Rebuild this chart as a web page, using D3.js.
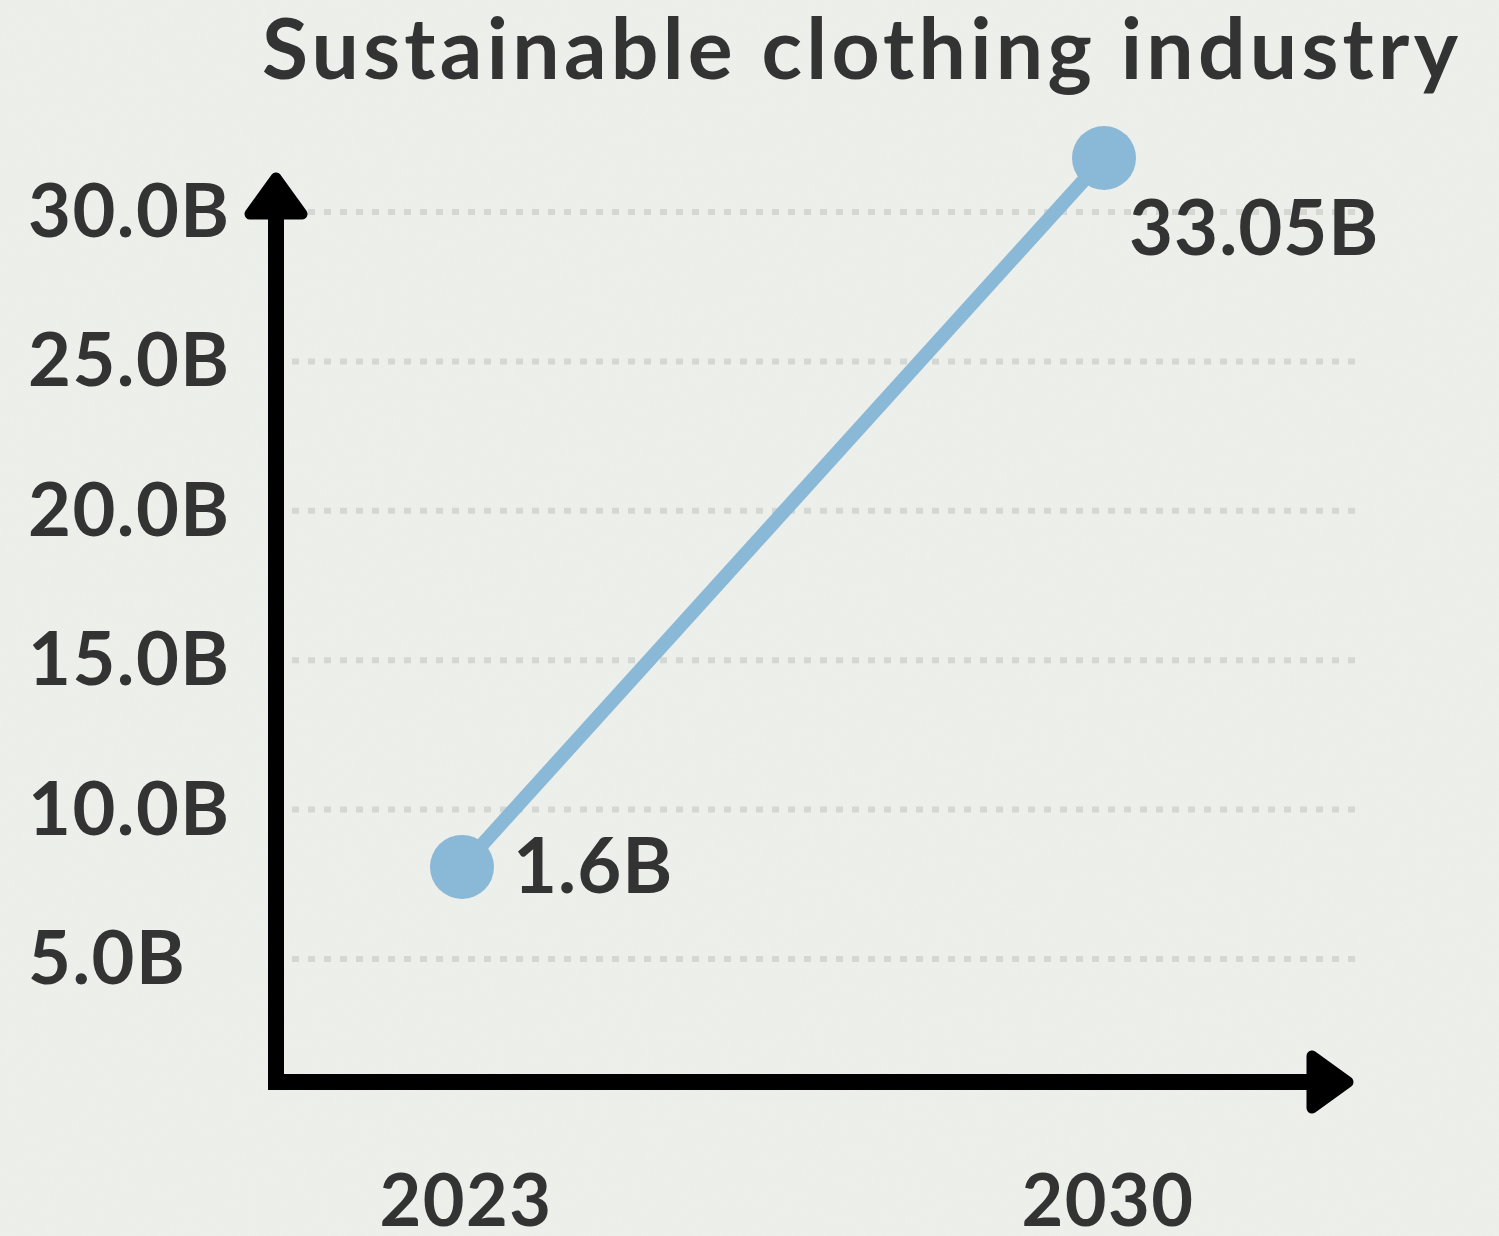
<!DOCTYPE html>
<html>
<head>
<meta charset="utf-8">
<script src="https://cdn.jsdelivr.net/npm/d3@7"></script>
<style>
  html, body { margin: 0; padding: 0; background: #edefeb; }
  svg { display: block; }
  text { font-family: Lato, "Open Sans", sans-serif; font-weight: 700; fill: #333333; }
</style>
</head>
<body>
<svg id="chart" width="1499" height="1236"></svg>
<script>
// ---- data ----
const title = "Sustainable clothing industry";
const years = ["2023", "2030"];
const values = [1.6, 33.05];
const valueLabels = ["1.6B", "33.05B"];
const yTicks = [5, 10, 15, 20, 25, 30];
const yTickLabels = ["5.0B", "10.0B", "15.0B", "20.0B", "25.0B", "30.0B"];

// ---- layout ----
const W = 1499, H = 1236;
const svg = d3.select("#chart");

// paper texture
const defs = svg.append("defs");
const f = defs.append("filter").attr("id", "paper").attr("x", 0).attr("y", 0).attr("width", "100%").attr("height", "100%");
f.append("feTurbulence").attr("type", "fractalNoise").attr("baseFrequency", 0.35).attr("numOctaves", 3).attr("seed", 4).attr("result", "n");
f.append("feColorMatrix").attr("type", "matrix")
  .attr("values", "0 0 0 0 0.82  0 0 0 0 0.83  0 0 0 0 0.80  0 0 0 -1.1 0.75");
svg.append("rect").attr("width", W).attr("height", H).attr("fill", "#edefeb");
svg.append("rect").attr("width", W).attr("height", H).attr("filter", "url(#paper)").attr("opacity", 0.35);

const axisX = 276, axisY = 1082;
const gridX0 = 292, gridX1 = 1355;

const x = d3.scalePoint().domain(years).range([462, 1104]);
const y = d3.scaleLinear().domain([5, 30]).range([959, 212]);
const yVal = d3.scaleLinear().domain([0, 35]).range([903, 114]);

// gridlines
svg.append("g").selectAll("line").data(yTicks).join("line")
  .attr("x1", gridX0).attr("x2", gridX1)
  .attr("y1", d => y(d)).attr("y2", d => y(d))
  .attr("stroke", "#d5d7d2").attr("stroke-width", 6)
  .attr("stroke-dasharray", "7 9");

// y tick labels
svg.append("g").selectAll("text").data(yTicks).join("text")
  .attr("x", 28).attr("y", d => y(d) + 25)
  .attr("font-size", 74)
  .attr("letter-spacing", 1.5)
  .text((d, i) => yTickLabels[i]);

// axes
svg.append("line").attr("x1", axisX).attr("x2", axisX).attr("y1", axisY + 8).attr("y2", 214)
  .attr("stroke", "#000").attr("stroke-width", 16);
svg.append("line").attr("x1", axisX - 8).attr("x2", 1310).attr("y1", axisY).attr("y2", axisY)
  .attr("stroke", "#000").attr("stroke-width", 16);
// arrow heads (rounded)
svg.append("path")
  .attr("d", `M${axisX},178 L${axisX + 26},214 L${axisX - 26},214 Z`)
  .attr("fill", "#000").attr("stroke", "#000").attr("stroke-width", 11).attr("stroke-linejoin", "round");
svg.append("path")
  .attr("d", `M1348,${axisY} L1312,${axisY - 26} L1312,${axisY + 26} Z`)
  .attr("fill", "#000").attr("stroke", "#000").attr("stroke-width", 11).attr("stroke-linejoin", "round");

// x labels
svg.append("g").selectAll("text").data(years).join("text")
  .attr("x", d => x(d) + 4).attr("y", 1226)
  .attr("text-anchor", "middle").attr("font-size", 72)
  .attr("letter-spacing", 1.5)
  .text(d => d);

// line + points
const pts = years.map((yr, i) => ({ yr, v: values[i], label: valueLabels[i] }));
svg.append("path").datum(pts)
  .attr("d", d3.line().x(d => x(d.yr)).y(d => yVal(d.v)))
  .attr("fill", "none").attr("stroke", "#8ab8d7").attr("stroke-width", 14);
svg.append("g").selectAll("circle").data(pts).join("circle")
  .attr("cx", d => x(d.yr)).attr("cy", d => yVal(d.v)).attr("r", 32)
  .attr("fill", "#8ab8d7");

// value labels
svg.append("g").selectAll("text").data(pts).join("text")
  .attr("x", (d, i) => x(d.yr) + (i === pts.length - 1 ? 25 : 51))
  .attr("y", (d, i) => yVal(d.v) + (i === pts.length - 1 ? 97 : 26))
  .attr("font-size", 76)
  .attr("letter-spacing", 1)
  .text(d => d.label);

// title
const t = svg.append("text").attr("x", 262).attr("y", 79)
  .attr("font-size", 84).text(title);
const wT = t.node().getComputedTextLength();
const n = title.length - 1;
t.attr("letter-spacing", Math.max(0, (1196 - wT) / n));
</script>
</body>
</html>
